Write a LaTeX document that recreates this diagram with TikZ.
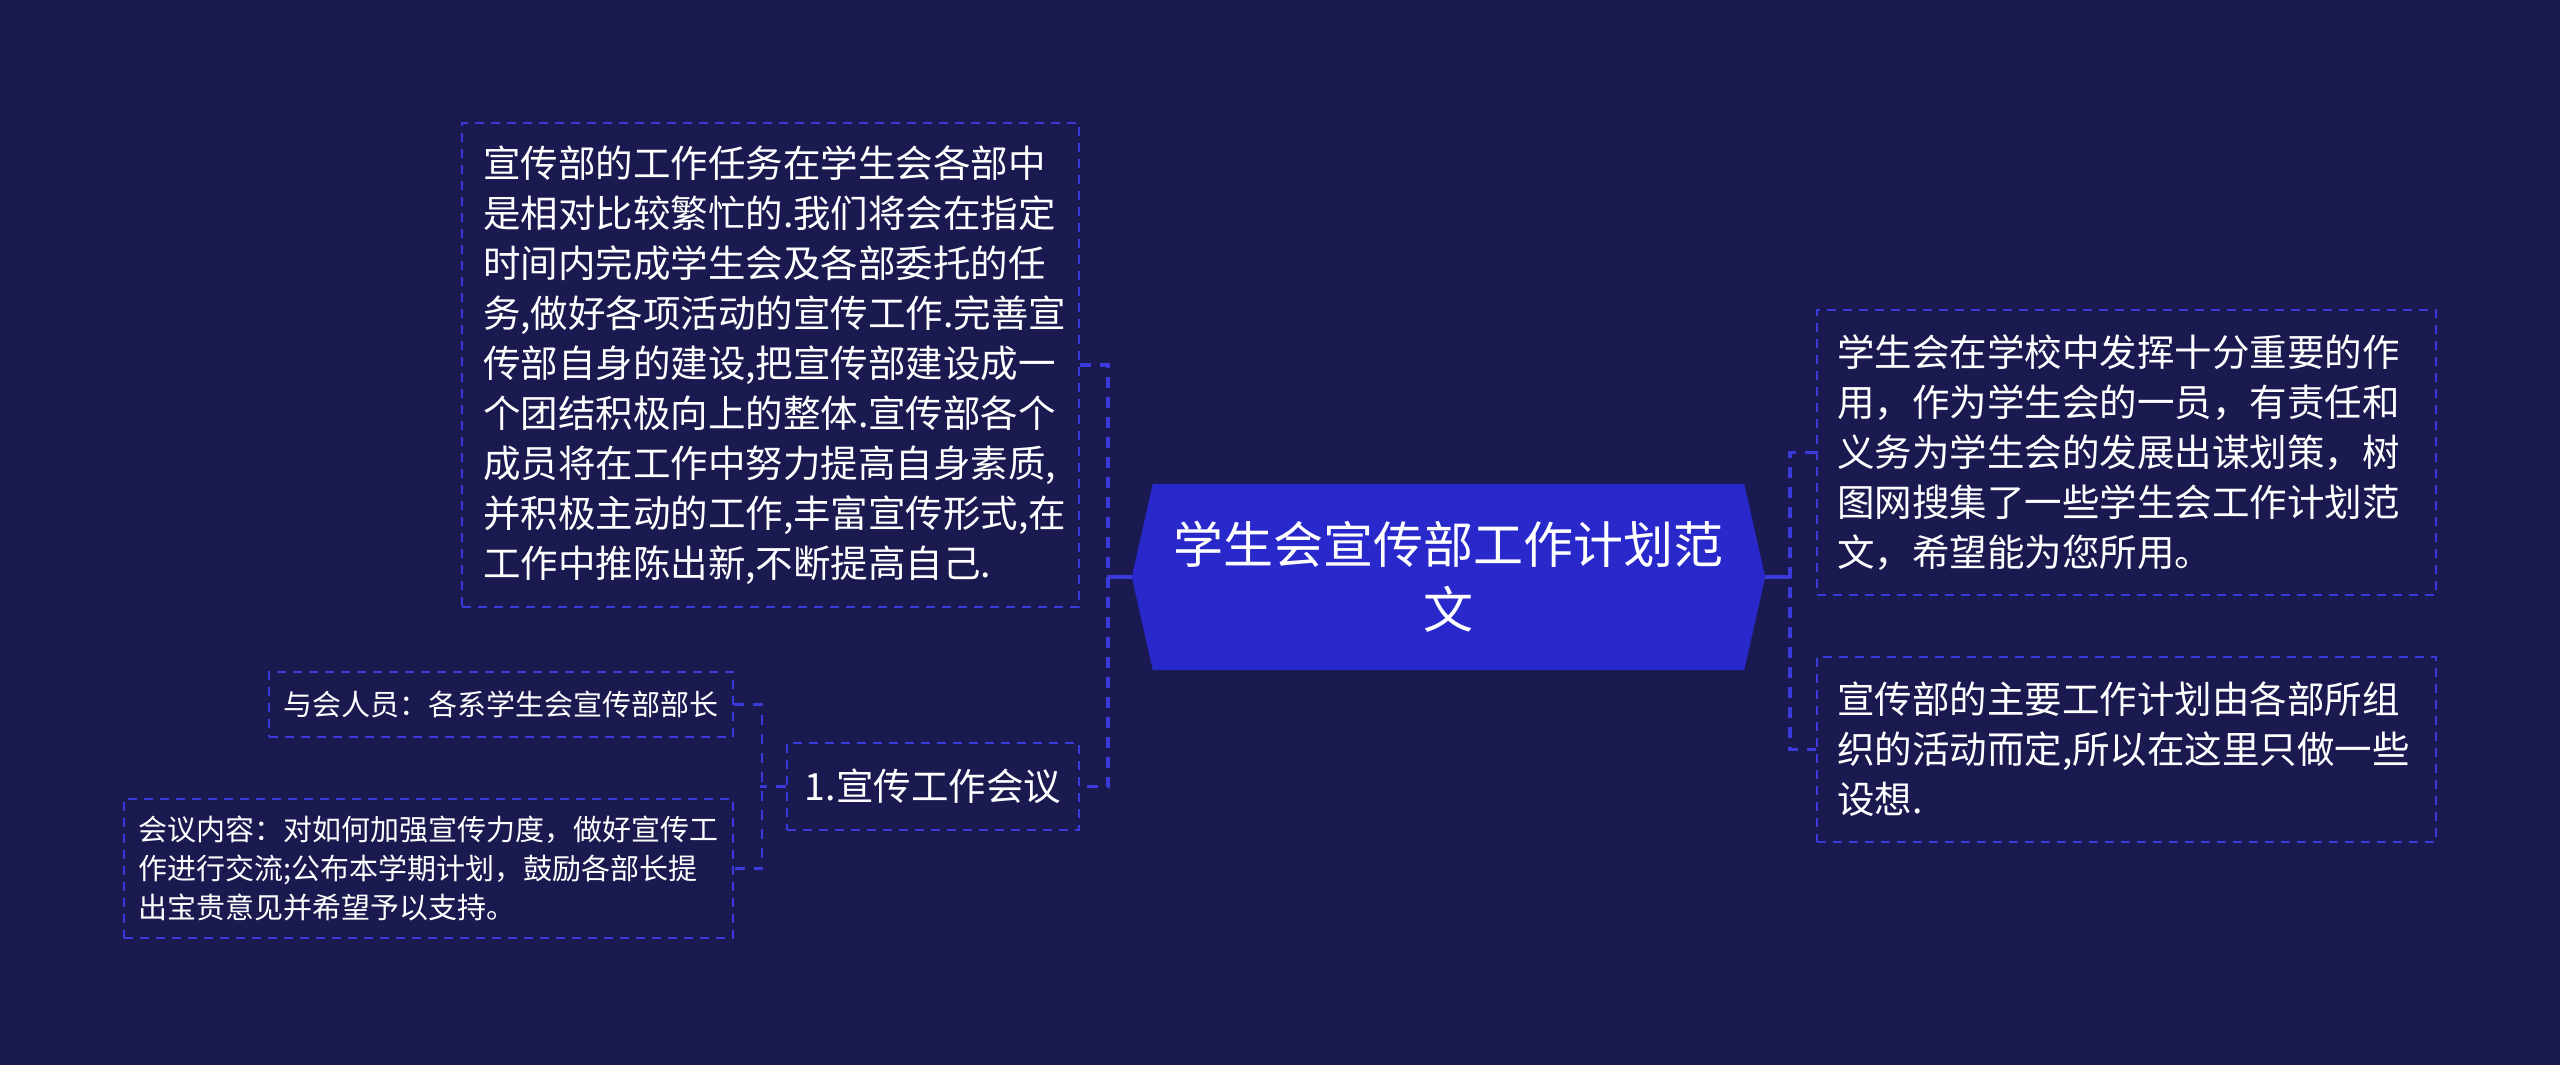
\documentclass[tikz,border=0pt]{standalone}
\usepackage{fontspec}
\newfontfamily\cjk{Noto Sans CJK SC}
\definecolor{bg}{HTML}{1A1950}
\definecolor{hexfill}{HTML}{2929CB}
\definecolor{ln}{HTML}{3A3ADB}
\tikzset{
  box/.style={draw=ln, line width=2.3pt, dash pattern=on 9pt off 7pt, inner sep=0pt, text=white, align=left},
  trunk/.style={draw=ln, line width=3.8pt, dash pattern=on 11pt off 9pt},
  subline/.style={draw=ln, line width=2.6pt, dash pattern=on 10pt off 9pt},
  solidline/.style={draw=ln, line width=3.8pt},
  bodyfont/.style={font=\cjk\fontsize{37.5}{50}\selectfont},
  smallfont/.style={font=\cjk\fontsize{29}{39}\selectfont},
  titlefont/.style={font=\cjk\fontsize{50}{65}\selectfont},
}
\begin{document}
\begin{tikzpicture}[x=1pt,y=-1pt]
\fill[bg] (0,0) rectangle (2560,1065);
\useasboundingbox (0,0) rectangle (2560,1065);

% central topic
\node[titlefont, text=white, align=center, minimum width=633pt, minimum height=186pt, inner sep=0pt] (ctr) at (1448.5,577) {};
\fill[hexfill] (ctr.west) -- ([xshift=21pt]ctr.north west) -- ([xshift=-21pt]ctr.north east) -- (ctr.east) -- ([xshift=-21pt]ctr.south east) -- ([xshift=21pt]ctr.south west) -- cycle;
\node[titlefont, text=white, align=center, inner sep=0pt] (ctrtext) at (ctr.center) {学生会宣传部工作计划范\\文};

% left branch
\node[box, bodyfont, minimum width=617pt, minimum height=484pt, text width=575pt] (big) at (770.5,365) {宣传部的工作任务在学生会各部中\\是相对比较繁忙的.我们将会在指定\\时间内完成学生会及各部委托的任\\务,做好各项活动的宣传工作.完善宣\\传部自身的建设,把宣传部建设成一\\个团结积极向上的整体.宣传部各个\\成员将在工作中努力提高自身素质,\\并积极主动的工作,丰富宣传形式,在\\工作中推陈出新,不断提高自己.};

\node[box, bodyfont, align=center, minimum width=292pt, minimum height=87pt] (meet) at (933,786.5) {1.宣传工作会议};

\node[box, smallfont, minimum width=464pt, minimum height=65pt, text width=436pt] (mem) at (501,704.5) {与会人员：各系学生会宣传部部长};

\node[box, smallfont, minimum width=609pt, minimum height=139pt, text width=580pt] (cont) at (428.5,868.5) {会议内容：对如何加强宣传力度，做好宣传工\\作进行交流;公布本学期计划，鼓励各部长提\\出宝贵意见并希望予以支持。};

% right branch
\node[box, bodyfont, minimum width=619pt, minimum height=285pt, text width=579pt] (r1) at (2126.5,452.5) {学生会在学校中发挥十分重要的作\\用，作为学生会的一员，有责任和\\义务为学生会的发展出谋划策，树\\图网搜集了一些学生会工作计划范\\文，希望能为您所用。};

\node[box, bodyfont, minimum width=619pt, minimum height=185pt, text width=579pt] (r2) at (2126.5,749.5) {宣传部的主要工作计划由各部所组\\织的活动而定,所以在这里只做一些\\设想.};

% connectors
\draw[solidline] (ctr.west) -- ++(-25,0) coordinate (lj);
\draw[trunk] (big.east) -- ++(28,0) |- (meet.east);
\draw[solidline] (ctr.east) -- ++(26,0) coordinate (rj);
\draw[trunk] (r1.west) -- ++(-26,0) |- (r2.west);
\draw[subline] (meet.west) -- ++(-26,0) coordinate (sj);
\draw[subline] (mem.east) -- ++(28,0) |- (cont.east);
\end{tikzpicture}
\end{document}
